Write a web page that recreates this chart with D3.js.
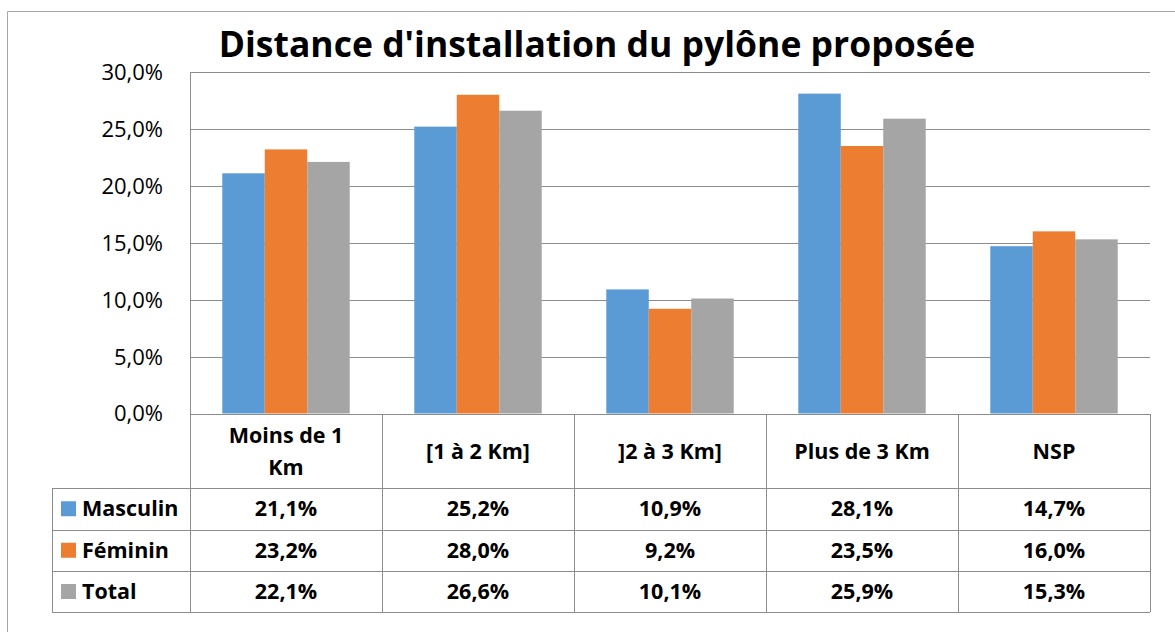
<!DOCTYPE html>
<html>
<head>
<meta charset="utf-8">
<script src="https://cdn.jsdelivr.net/npm/d3@7"></script>
<style>
  body { margin: 0; background: #fff; }
  svg text { font-family: "Open Sans", sans-serif; fill: #000; }
</style>
</head>
<body>
<div id="chart"></div>
<script>
// data
var categories = ["Moins de 1 Km", "[1 à 2 Km]", "]2 à 3 Km]", "Plus de 3 Km", "NSP"];
var headerLines = [["Moins de 1", "Km"], ["[1 à 2 Km]"], ["]2 à 3 Km]"], ["Plus de 3 Km"], ["NSP"]];
var seriesNames = ["Masculin", "Féminin", "Total"];
var masculin = [21.1, 25.2, 10.9, 28.1, 14.7];
var feminin = [23.2, 28.0, 9.2, 23.5, 16.0];
var total = [22.1, 26.6, 10.1, 25.9, 15.3];
var yTicks = [0, 5, 10, 15, 20, 25, 30];
var colors = ["#5B9BD5", "#ED7D31", "#A5A5A5"];

var width = 1175, height = 632;
var margin = { top: 72, left: 190, right: 25, bottom: 218 };
var series = [masculin, feminin, total];

var svg = d3.select("#chart").append("svg")
    .attr("width", width)
    .attr("height", height);

// outer frame (cut off at right and bottom)
svg.append("path")
    .attr("d", "M7.5," + height + "V11.5H" + width)
    .attr("fill", "none")
    .attr("stroke", "#a6a6a6")
    .attr("stroke-width", 1);

var fmt = d3.formatLocale({ decimal: ",", thousands: " ", grouping: [3], currency: ["", "€"] }).format(".1f");

var x0 = d3.scaleBand()
    .domain(categories)
    .range([margin.left, width - margin.right])
    .padding(0);

var x1 = d3.scaleBand()
    .domain(seriesNames)
    .range([0, x0.bandwidth()])
    .paddingInner(0)
    .paddingOuter(0.76);

var y = d3.scaleLinear()
    .domain([0, 30])
    .range([413.5, 72]);

// gridlines
svg.append("g")
    .selectAll("line")
    .data(yTicks.filter(function (d) { return d > 0; }))
    .enter().append("line")
    .attr("x1", margin.left)
    .attr("x2", width - margin.right)
    .attr("y1", function (d) { return Math.round(y(d)) + 0.5; })
    .attr("y2", function (d) { return Math.round(y(d)) + 0.5; })
    .attr("stroke", "#8c8c8c")
    .attr("stroke-width", 1);

// bars
seriesNames.forEach(function (name, si) {
    svg.append("g")
        .selectAll("rect")
        .data(series[si])
        .enter().append("rect")
        .attr("x", function (d, i) { return x0(categories[i]) + x1(name); })
        .attr("y", function (d) { return y(d); })
        .attr("width", x1.bandwidth())
        .attr("height", function (d) { return y(0) - y(d); })
        .attr("fill", colors[si]);
});

// y axis labels
svg.append("g")
    .selectAll("text")
    .data(yTicks)
    .enter().append("text")
    .attr("x", 163)
    .attr("y", function (d) { return y(d); })
    .attr("dy", "0.36em")
    .attr("text-anchor", "end")
    .style("font-size", "22px")
    .text(function (d) { return fmt(d) + "%"; });

// data table
var rowTop = [414, 488, 529.5, 571, 612];
var tableLeft = 52;
var lineColor = "#8c8c8c";
var tbl = svg.append("g");

// left axis line of the plot + header left edge
tbl.append("line")
    .attr("x1", margin.left + 0.5).attr("x2", margin.left + 0.5)
    .attr("y1", 72).attr("y2", rowTop[4])
    .attr("stroke", lineColor);

// horizontal lines
tbl.selectAll(".hline")
    .data(rowTop)
    .enter().append("line")
    .attr("class", "hline")
    .attr("x1", function (d, i) { return i === 0 ? margin.left : tableLeft; })
    .attr("x2", width - margin.right)
    .attr("y1", function (d) { return Math.round(d) + 0.5; })
    .attr("y2", function (d) { return Math.round(d) + 0.5; })
    .attr("stroke", lineColor);

// vertical lines between columns
tbl.selectAll(".vline")
    .data(categories)
    .enter().append("line")
    .attr("class", "vline")
    .attr("x1", function (d) { return Math.round(x0(d) + x0.bandwidth()) + 0.5; })
    .attr("x2", function (d) { return Math.round(x0(d) + x0.bandwidth()) + 0.5; })
    .attr("y1", rowTop[0])
    .attr("y2", rowTop[4])
    .attr("stroke", lineColor);

tbl.append("line")
    .attr("x1", tableLeft + 0.5).attr("x2", tableLeft + 0.5)
    .attr("y1", rowTop[1]).attr("y2", rowTop[4])
    .attr("stroke", lineColor);

// header labels
var headerMid = (rowTop[0] + rowTop[1]) / 2;
categories.forEach(function (c, i) {
    var lines = headerLines[i];
    var lh = 32;
    var t = tbl.append("text")
        .attr("text-anchor", "middle")
        .style("font-size", "21.5px")
        .style("font-weight", "bold");
    lines.forEach(function (l, j) {
        t.append("tspan")
            .attr("x", x0(c) + x0.bandwidth() / 2)
            .attr("y", headerMid + (j - (lines.length - 1) / 2) * lh)
            .attr("dy", "0.36em")
            .text(l);
    });
});

// series rows
seriesNames.forEach(function (name, si) {
    var mid = (rowTop[si + 1] + rowTop[si + 2]) / 2;
    tbl.append("rect")
        .attr("x", 61)
        .attr("y", mid - 7.5)
        .attr("width", 15)
        .attr("height", 15)
        .attr("fill", colors[si]);
    tbl.append("text")
        .attr("x", 82)
        .attr("y", mid)
        .attr("dy", "0.36em")
        .style("font-size", "21.5px")
        .style("font-weight", "bold")
        .text(name);
    tbl.selectAll(".v" + si)
        .data(series[si])
        .enter().append("text")
        .attr("x", function (d, i) { return x0(categories[i]) + x0.bandwidth() / 2; })
        .attr("y", mid)
        .attr("dy", "0.36em")
        .attr("text-anchor", "middle")
        .style("font-size", "21.5px")
        .style("font-weight", "bold")
        .text(function (d) { return fmt(d) + "%"; });
});

// title
svg.append("text")
    .attr("x", 597)
    .attr("y", 57)
    .attr("text-anchor", "middle")
    .style("font-size", "35.5px")
    .style("font-weight", "bold")
    .text("Distance d'installation du pylône proposée");
</script>
</body>
</html>
